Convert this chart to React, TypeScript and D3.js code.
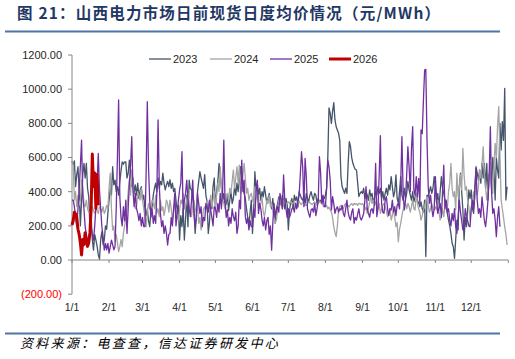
import React from "react";
import * as d3 from "d3";

// ---------- DATA ----------
const monthLabels = ["1/1", "2/1", "3/1", "4/1", "5/1", "6/1", "7/1", "8/1", "9/1", "10/1", "11/1", "12/1"];
const monthStartDays = [0, 31, 59, 90, 120, 151, 181, 212, 243, 273, 304, 334, 365];
const yTickValues = [-200, 0, 200, 400, 600, 800, 1000, 1200];
const seriesNames = ["2023", "2024", "2025", "2026"];

// daily average day-ahead spot price (元/MWh), index = day of year
const values2023 = [
  // Jan
  580, 560, 580, 430, 500, 546, 400, 200, 350, 500,
  566, 480, 566, 420, 371, 195, 250, 120, 58, 150,
  117, 80, 30, 5, 120, 166, 90, 117, 200, 180, 273,
  // Feb
  350, 420, 380, 546, 440, 468, 400, 430, 380, 460,
  520, 575, 560, 575, 575, 480, 508, 585, 520, 430,
  480, 390, 440, 380, 450, 360, 410, 429,
  // Mar
  351, 380, 300, 260, 300, 230, 195, 280, 312, 380,
  420, 450, 400, 480, 420, 460, 440, 508, 450, 410,
  440, 460, 430, 470, 420, 450, 400, 420, 350, 273, 320,
  // Apr
  117, 260, 195, 300, 117, 240, 380, 195, 468, 420,
  410, 360, 300, 156, 250, 400, 460, 517, 480, 450,
  420, 500, 380, 340, 156, 220, 350, 300, 430, 480,
  // May
  300, 400, 460, 566, 500, 420, 351, 390, 312, 330,
  380, 290, 350, 400, 330, 360, 429, 380, 450, 400,
  468, 546, 480, 420, 390, 360, 300, 250, 195, 280, 350,
  // Jun
  156, 300, 517, 400, 450, 380, 420, 350, 400, 370,
  429, 380, 330, 360, 390, 340, 300, 360, 280, 215,
  300, 330, 370, 350, 320, 380, 340, 300, 360, 330,
  // Jul
  176, 290, 340, 360, 300, 380, 350, 370, 310, 400,
  380, 360, 350, 380, 320, 390, 360, 340, 380, 400,
  371, 350, 390, 380, 332, 360, 340, 350, 330, 370, 360,
  // Aug
  380, 420, 600, 890, 860, 800, 870, 921, 820, 780,
  761, 742, 700, 488, 429, 410, 390, 420, 390, 560,
  693, 663, 600, 566, 546, 530, 527, 450, 371, 390, 400,
  // Sep
  390, 420, 360, 400, 380, 350, 410, 371, 390, 340,
  360, 400, 380, 430, 390, 420, 360, 400, 350, 390,
  420, 380, 440, 410, 488, 430, 370, 400, 498, 363,
  // Oct
  333, 400, 488, 380, 350, 420, 360, 390, 460, 410,
  380, 351, 400, 340, 370, 390, 350, 333, 312, 340,
  300, 280, 350, 20, 380, 371, 400, 430, 390, 420, 488,
  // Nov
  429, 333, 390, 312, 400, 488, 420, 390, 350, 312,
  273, 234, 200, 156, 98, 78, 10, 120, 234, 176,
  429, 508, 400, 293, 117, 250, 195, 300, 410, 360,
  // Dec
  410, 300, 273, 400, 546, 508, 468, 527, 450, 566,
  480, 566, 420, 566, 351, 500, 527, 420, 600, 527,
  351, 600, 527, 480, 800, 644, 810, 700, 1005, 351, 429,
];

const values2024 = [
  // Jan
  580, 560, 351, 400, 312, 380, 320, 350, 468, 420,
  330, 312, 351, 300, 280, 273, 300, 312, 290, 273,
  300, 290, 273, 312, 300, 280, 312, 273, 290, 320, 300,
  // Feb
  420, 508, 300, 176, 200, 107, 150, 100, 49, 78,
  120, 78, 156, 200, 250, 312, 400, 468, 380, 527,
  450, 351, 300, 312, 400, 380, 351, 420,
  // Mar
  351, 300, 250, 195, 280, 332, 300, 312, 350, 332,
  300, 380, 273, 300, 254, 350, 290, 312, 260, 300,
  351, 330, 280, 351, 300, 234, 280, 330, 300, 250, 234,
  // Apr
  293, 350, 330, 390, 300, 312, 350, 390, 330, 280,
  254, 320, 351, 300, 280, 330, 215, 250, 176, 220,
  300, 312, 280, 350, 330, 300, 380, 312, 350, 400,
  // May
  312, 380, 450, 400, 546, 429, 350, 332, 300, 380,
  390, 350, 420, 390, 460, 527, 420, 480, 546, 450,
  556, 390, 420, 500, 566, 480, 390, 420, 350, 380, 390,
  // Jun
  350, 332, 429, 400, 351, 380, 300, 332, 370, 280,
  254, 300, 351, 330, 380, 312, 330, 290, 250, 215,
  234, 290, 350, 371, 330, 300, 351, 340, 320, 330,
  // Jul
  340, 330, 345, 325, 335, 340, 330, 320, 335, 345,
  330, 325, 340, 335, 330, 320, 330, 340, 335, 330,
  325, 335, 340, 330, 320, 330, 345, 335, 330, 320, 312,
  // Aug
  312, 320, 300, 310, 293, 280, 250, 195, 160, 137,
  200, 293, 312, 320, 312, 300, 322, 330, 315, 320,
  312, 325, 330, 320, 332, 325, 330, 320, 332, 330, 325,
  // Sep
  330, 320, 293, 310, 273, 300, 340, 371, 330, 351,
  320, 340, 312, 300, 330, 273, 300, 320, 332, 310,
  290, 254, 280, 300, 234, 260, 300, 250, 195, 220,
  // Oct
  107, 180, 215, 260, 293, 312, 330, 300, 332, 312,
  280, 312, 351, 300, 293, 390, 332, 300, 280, 234,
  260, 293, 312, 350, 370, 320, 280, 300, 330, 300, 293,
  // Nov
  312, 293, 351, 280, 234, 254, 300, 254, 312, 350,
  300, 400, 450, 566, 420, 371, 400, 293, 508, 371,
  420, 500, 410, 654, 500, 410, 429, 350, 312, 234,
  // Dec
  300, 351, 400, 351, 420, 380, 429, 527, 480, 560,
  663, 500, 420, 351, 429, 500, 566, 420, 390, 546,
  683, 600, 780, 898, 620, 351, 300, 250, 195, 150, 88,
];

const values2025 = [
  // Jan
  351, 351, 312, 250, 195, 300, 410, 550, 702, 371,
  300, 195, 150, 117, 117, 160, 195, 150, 117, 200,
  312, 450, 624, 410, 300, 195, 137, 58, 98, 60, 98,
  // Feb
  40, 78, 117, 90, 60, 78, 300, 600, 937, 371,
  250, 200, 312, 230, 350, 156, 300, 450, 560, 722,
  410, 312, 390, 300, 273, 230, 273, 200,
  // Mar
  250, 195, 195, 500, 927, 546, 350, 250, 300, 215,
  260, 215, 400, 820, 450, 273, 195, 230, 156, 200,
  156, 88, 150, 156, 250, 200, 300, 390, 200, 273, 350,
  // Apr
  410, 450, 634, 273, 351, 390, 468, 351, 300, 254,
  350, 468, 280, 195, 250, 390, 330, 273, 312, 195,
  250, 230, 332, 300, 280, 350, 293, 250, 200, 312,
  // May
  300, 250, 332, 280, 390, 300, 400, 702, 351, 250,
  293, 200, 250, 215, 300, 254, 230, 280, 156, 200,
  350, 300, 585, 400, 468, 254, 215, 250, 176, 230, 195,
  // Jun
  195, 300, 250, 410, 468, 273, 332, 300, 234, 200,
  250, 176, 230, 250, 150, 200, 58, 215, 332, 254,
  290, 312, 280, 390, 350, 300, 498, 351, 300, 250,
  // Jul
  300, 250, 273, 300, 312, 280, 332, 300, 351, 380,
  500, 634, 546, 312, 595, 488, 300, 273, 250, 293,
  300, 280, 330, 260, 300, 350, 605, 507, 332, 380, 312,
  // Aug
  312, 420, 585, 546, 468, 293, 371, 330, 273, 300,
  312, 280, 300, 293, 320, 273, 254, 300, 351, 280,
  250, 234, 280, 300, 215, 250, 234, 270, 300, 250, 234,
  // Sep
  250, 273, 350, 429, 300, 273, 250, 293, 300, 273,
  330, 566, 254, 300, 500, 728, 332, 280, 273, 350,
  371, 300, 260, 300, 293, 350, 280, 312, 260, 320,
  // Oct
  332, 300, 450, 722, 400, 293, 350, 500, 663, 546,
  400, 650, 781, 410, 380, 488, 370, 478, 332, 761,
  740, 937, 1112, 1116, 702, 429, 332, 380, 300, 254, 300,
  // Nov
  488, 350, 273, 300, 332, 250, 400, 556, 300, 351,
  280, 300, 234, 200, 273, 230, 300, 195, 156, 250,
  351, 280, 230, 176, 200, 300, 254, 230, 200, 195,
  // Dec (to 12/25)
  300, 351, 300, 420, 537, 350, 273, 300, 250, 370,
  300, 230, 195, 260, 351, 500, 780, 400, 273, 300,
  234, 137, 250, 312, 195,
];

const values2026 = [
  205, 230, 280, 270, 250, 180, 150, 100, 30, 120,
  90, 160, 110, 80, 100, 160, 300, 620, 430, 510,
  300, 500, 320,
];

const seriesValues = [values2023, values2024, values2025, values2026];

// ---------- STYLE ----------
const seriesColors = ["#44546A", "#A5A5A5", "#7030A0", "#C00000"];
const seriesWidths = [1.3, 1.3, 1.3, 3];

const W = 515;
const H = 359;
const plot = { left: 72, right: 508.3, top: 55, bottom: 294.2 };

export default function App() {
  const x = d3.scaleLinear().domain([0, 365]).range([plot.left, plot.right]);
  const y = d3.scaleLinear().domain([-200, 1200]).range([plot.bottom, plot.top]);

  const line = d3
    .line<number>()
    .x((_, i) => x(i))
    .y((d) => y(d));

  const axisFont = "'Liberation Sans', Arial, sans-serif";
  const cjkFont = "'Noto Sans CJK SC', sans-serif";

  const legendX = [149, 210, 270, 329];

  return (
    <svg
      width={W}
      height={H}
      viewBox={`0 0 ${W} ${H}`}
      style={{ position: "absolute", left: 0, top: 0, background: "#fff" }}
    >
      <rect x={0} y={0} width={W} height={H} fill="#fff" />
      {/* title */}
      <text
        x={17}
        y={19}
        fontFamily={cjkFont}
        fontWeight={700}
        fontSize={15.5}
        fill="#1F3864"
        letterSpacing={1.2}
      >
        图 21：山西电力市场日前现货日度均价情况（元/MWh）
      </text>
      <line x1={5} x2={500} y1={31.5} y2={31.5} stroke="#4F74A8" strokeWidth={2} />

      {/* y axis */}
      <line x1={x(0)} x2={x(0)} y1={y(1200)} y2={y(-200)} stroke="#868686" strokeWidth={1} />
      {yTickValues.map((v) => (
        <g key={v}>
          <line x1={x(0) - 4} x2={x(0)} y1={y(v)} y2={y(v)} stroke="#868686" strokeWidth={1} />
          <text
            x={62}
            y={y(v)}
            dy="0.35em"
            textAnchor="end"
            fontFamily={axisFont}
            fontSize={11}
            fill={v < 0 ? "#FF0000" : "#262626"}
          >
            {v < 0 ? `(${d3.format(".2f")(-v)})` : d3.format(".2f")(v)}
          </text>
        </g>
      ))}

      {/* x axis at zero */}
      <line x1={x(0)} x2={x(365)} y1={y(0)} y2={y(0)} stroke="#868686" strokeWidth={1} />
      {monthStartDays.map((d) => (
        <line key={d} x1={x(d)} x2={x(d)} y1={y(0)} y2={y(0) + 3} stroke="#868686" strokeWidth={1} />
      ))}
      {monthLabels.map((lab, i) => (
        <text
          key={lab}
          x={x(monthStartDays[i])}
          y={311}
          textAnchor="middle"
          fontFamily={axisFont}
          fontSize={10.5}
          fill="#262626"
        >
          {lab}
        </text>
      ))}

      {/* series */}
      {seriesValues.map((vals, i) => (
        <path
          key={seriesNames[i]}
          d={line(vals) || ""}
          fill="none"
          stroke={seriesColors[i]}
          strokeWidth={seriesWidths[i]}
          strokeLinejoin="round"
        />
      ))}

      {/* legend */}
      {seriesNames.map((n, i) => (
        <g key={n}>
          <line
            x1={legendX[i]}
            x2={legendX[i] + 22}
            y1={59}
            y2={59}
            stroke={seriesColors[i]}
            strokeWidth={seriesWidths[i]}
          />
          <text x={legendX[i] + 24} y={59} dy="0.35em" fontFamily={axisFont} fontSize={11} fill="#262626">
            {n}
          </text>
        </g>
      ))}

      {/* footer */}
      <line x1={5} x2={500} y1={333.5} y2={333.5} stroke="#4F74A8" strokeWidth={2} />
      <text
        x={20}
        y={348}
        fontFamily={cjkFont}
        fontStyle="italic"
        fontSize={13}
        fill="#000"
        letterSpacing={2.3}
      >
        资料来源：电查查，信达证券研发中心
      </text>
    </svg>
  );
}
